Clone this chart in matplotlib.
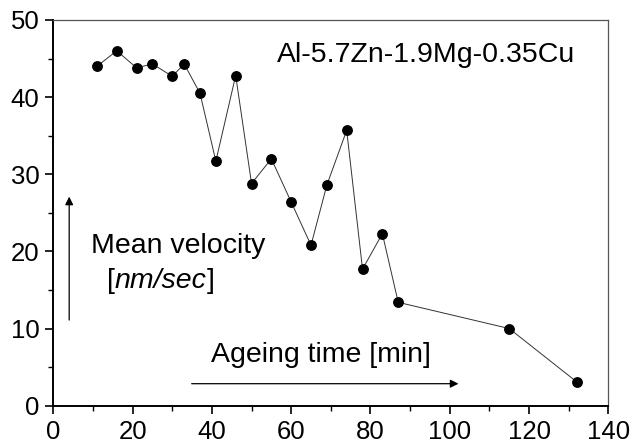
import numpy as np
import matplotlib
matplotlib.use("Agg")
import matplotlib.pyplot as plt
from matplotlib.ticker import MultipleLocator

plt.rcParams['font.family'] = ['Liberation Sans', 'DejaVu Sans']

# Ageing time [min] vs mean velocity [nm/sec]
ageing_time = [11, 16, 21, 25, 30, 33, 37, 41, 46, 50, 55, 60, 65, 69, 74, 78, 83, 87, 115, 132]
mean_velocity = [44.0, 46.0, 43.8, 44.3, 42.7, 44.3, 40.5, 31.7, 42.8, 28.8, 32.0, 26.4,
                 20.8, 28.6, 35.7, 17.7, 22.3, 13.4, 10.0, 3.1]

fig = plt.figure(figsize=(6.32, 4.46), dpi=100)
ax = fig.add_axes([0.0844, 0.0904, 0.8781, 0.8648])

ax.plot(ageing_time, mean_velocity, color='#333333', lw=0.7, zorder=2)
ax.plot(ageing_time, mean_velocity, 'o', color='black', ms=6.8, zorder=3)

ax.set_xlim(0, 140)
ax.set_ylim(0, 50)
ax.xaxis.set_major_locator(MultipleLocator(20))
ax.xaxis.set_minor_locator(MultipleLocator(10))
ax.yaxis.set_major_locator(MultipleLocator(10))
ax.yaxis.set_minor_locator(MultipleLocator(5))

ax.tick_params(which='major', direction='out', length=6, width=1.2, labelsize=18.5, pad=4, color='black')
ax.tick_params(which='minor', direction='out', length=3.5, width=1.0, color='black')
ax.tick_params(top=False, right=False)

for s in ['left', 'bottom']:
    ax.spines[s].set_linewidth(1.4)
    ax.spines[s].set_color('black')
for s in ['top', 'right']:
    ax.spines[s].set_linewidth(0.9)
    ax.spines[s].set_color('#555555')

# annotations
fs = 20.5
ax.text(56.5, 44.6, 'Al-5.7Zn-1.9Mg-0.35Cu', fontsize=fs, ha='left', va='baseline')
ax.text(9.4, 19.8, 'Mean velocity', fontsize=fs, ha='left', va='baseline')
t1 = ax.text(13.5, 15.2, '[', fontsize=fs, ha='left', va='baseline')
t2 = ax.annotate('nm/sec', xy=(1, 0), xycoords=t1, fontsize=fs, style='italic',
                 ha='left', va='bottom')
ax.annotate(']', xy=(1, 0), xycoords=t2, fontsize=fs, ha='left', va='bottom')
ax.text(39.7, 5.7, 'Ageing time [min]', fontsize=fs, ha='left', va='baseline')

ax.annotate('', xy=(4.0, 27.1), xytext=(4.0, 11.1),
            arrowprops=dict(arrowstyle='-|>', color='black', lw=0.9, mutation_scale=12,
                            shrinkA=0, shrinkB=0))
ax.annotate('', xy=(102.2, 2.85), xytext=(34.9, 2.85),
            arrowprops=dict(arrowstyle='-|>', color='black', lw=0.9, mutation_scale=12,
                            shrinkA=0, shrinkB=0))

fig.savefig('out.png', dpi=100)
